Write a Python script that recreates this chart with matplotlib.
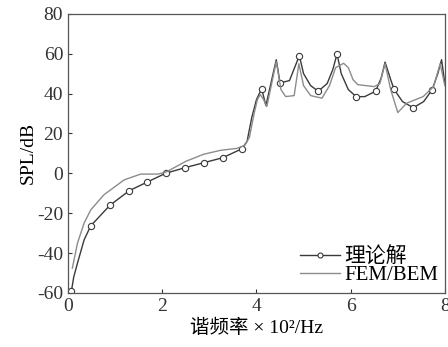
import numpy as np
import matplotlib
matplotlib.use('Agg')
import matplotlib.pyplot as plt
from matplotlib.ticker import MultipleLocator

plt.rcParams['font.family'] = ['Liberation Serif', 'Noto Sans CJK SC']
plt.rcParams['axes.unicode_minus'] = False

# theory curve (points with circles are listed in marker_idx)
theory_x = [0.07, 0.12, 0.20, 0.34, 0.48, 0.885, 1.30, 1.68, 2.07, 2.48, 2.88, 3.28, 3.69,
            3.80, 3.90, 4.00, 4.11, 4.20, 4.42, 4.50, 4.70, 4.91, 5.00, 5.15, 5.31, 5.50,
            5.62, 5.71, 5.80, 5.95, 6.12, 6.30, 6.53, 6.65, 6.73, 6.85, 6.92, 7.10, 7.33,
            7.55, 7.73, 7.85, 7.93, 8.00]
theory_y = [-59.2, -52, -45, -33.4, -26.4, -16.1, -8.7, -4.4, 0, 2.8, 5.3, 7.8, 12.3,
            16, 28, 37, 42.4, 34, 57, 45.4, 46.5, 59, 50, 44, 41.2, 45,
            52, 59.8, 50, 42, 38.4, 38.5, 41.2, 48, 55.8, 47, 42.2, 36, 32.9,
            36, 41.9, 50, 57, 45]
marker_idx = [0, 4, 5, 6, 7, 8, 9, 10, 11, 12, 16, 19, 21, 24, 27, 30, 32, 36, 38, 40]

# FEM/BEM curve
fem_x = [0.09, 0.20, 0.34, 0.48, 0.76, 1.19, 1.54, 1.90, 2.07, 2.50, 2.87, 3.23, 3.58,
         3.75, 3.85, 3.95, 4.02, 4.08, 4.15, 4.22, 4.42, 4.52, 4.62, 4.80, 4.90, 5.00,
         5.15, 5.39, 5.55, 5.68, 5.85, 5.95, 6.05, 6.15, 6.50, 6.62, 6.73, 6.85, 7.00,
         7.19, 7.54, 7.76, 7.90, 8.00]
fem_y = [-47.6, -35, -25, -18.4, -10.8, -3.3, -0.4, -0.4, 0.5, 6, 9.5, 11.5, 12.5,
         14, 18, 30, 37, 39.5, 37, 33.5, 56, 42, 38.5, 39, 55, 44,
         39, 37.7, 44, 53, 55.2, 53, 47, 44.5, 43.5, 45, 55, 42, 30.5,
         35.2, 38.5, 43.5, 55, 44]

fig = plt.figure(figsize=(4.48, 3.47), dpi=100)
ax = fig.add_axes([0.152, 0.156, 0.841, 0.804])

ax.plot(theory_x, theory_y, '-o', color='#3a3a3a', lw=1.0, ms=4.5,
        mfc='white', mec='#3a3a3a', mew=0.8, markevery=marker_idx, label='理论解')
ax.plot(fem_x, fem_y, '-', color='#8c8c8c', lw=1.0, label='FEM/BEM')

ax.set_xlim(0, 8)
ax.set_ylim(-60, 80)
ax.xaxis.set_major_locator(MultipleLocator(2))
ax.yaxis.set_major_locator(MultipleLocator(20))
ax.tick_params(direction='in', labelsize=14, length=3, colors='#333333')
for s in ax.spines.values():
    s.set_color('#555555')
    s.set_linewidth(0.9)

ax.set_ylabel('SPL/dB', fontsize=14, labelpad=0)
ax.set_xlabel('谐频率 × 10²/Hz', fontsize=14, labelpad=3)

leg = ax.legend(loc='lower right', bbox_to_anchor=(1.01, -0.01), frameon=False,
                fontsize=15, handlelength=1.9, handletextpad=0.2, labelspacing=-0.1,
                borderaxespad=0.1, numpoints=1, markerscale=0.8)

plt.savefig('out.png', dpi=100)
